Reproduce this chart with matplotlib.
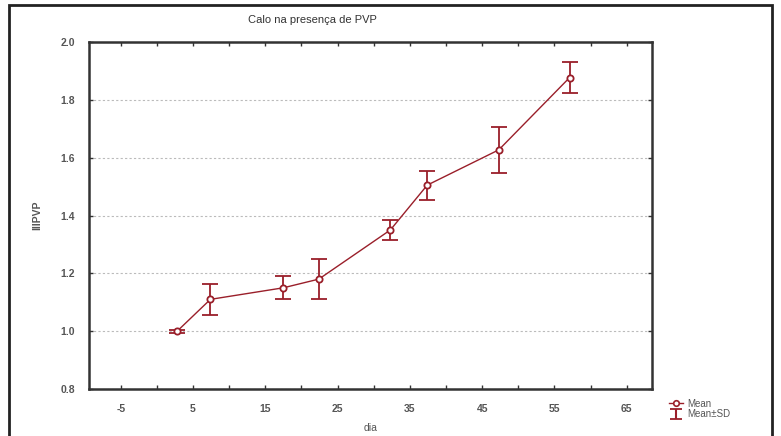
import matplotlib
matplotlib.use("Agg")
import matplotlib.pyplot as plt
from matplotlib.patches import Rectangle
from matplotlib.lines import Line2D
from matplotlib.container import ErrorbarContainer
from matplotlib.collections import LineCollection

plt.rcParams['font.family'] = ['Liberation Sans', 'DejaVu Sans']

dia = [2.8, 7.4, 17.5, 22.4, 32.3, 37.4, 47.3, 57.1]
mean = [1.00, 1.11, 1.15, 1.18, 1.35, 1.505, 1.627, 1.877]
sd = [0.005, 0.053, 0.04, 0.068, 0.036, 0.05, 0.08, 0.053]
xticks = [-5, 5, 15, 25, 35, 45, 55, 65]
yticks = [0.8, 1.0, 1.2, 1.4, 1.6, 1.8, 2.0]

W, H = 781, 436
fig = plt.figure(figsize=(W/100, H/100), dpi=100)
ax = fig.add_axes([89/W, 1-389/H, (652-89)/W, (389-42)/H])

red = '#9a1f2a'
ax.errorbar(dia, mean, yerr=sd, color=red, lw=1.0, marker='o', ms=4.5,
            mfc='white', mec=red, mew=1.3, capsize=6, capthick=1.3, elinewidth=1.3,
            zorder=3)

ax.set_xlim(-9.4, 68.5)
ax.set_ylim(0.8, 2.0)
ax.set_xticks(list(range(-5, 70, 5)))
ax.set_xticklabels([str(v) if v in xticks else '' for v in range(-5, 70, 5)])
ax.set_yticks(yticks)
ax.set_yticklabels([f'{v:.1f}' for v in yticks])
ax.tick_params(axis='both', direction='in', length=3, width=1, labelsize=7.5,
               colors='#333333', labelcolor='#555555', top=True, right=True, pad=10)
ax.tick_params(axis='x', pad=11)
for lab in ax.get_xticklabels() + ax.get_yticklabels():
    lab.set_fontweight('bold')
for s in ax.spines.values():
    s.set_linewidth(1.8)
    s.set_color('#333333')
ax.yaxis.grid(True, linestyle=(0, (2, 2)), color='#bbbbbb', lw=0.8)
ax.set_axisbelow(True)

ax.set_xlabel('dia', fontsize=7.5, color='#555555', labelpad=6)
ax.set_ylabel('IIIPVP', fontsize=7.5, color='#555555', labelpad=13, fontweight='bold')
fig.text(312/W, 1-20/H, 'Calo na presença de PVP', fontsize=8, color='#333333',
         ha='center', va='center')

h1 = Line2D([], [], color=red, lw=1.0, marker='o', ms=4, mfc='white', mec=red, mew=1.2)
cap = Line2D([], [], color=red, marker='_', ms=8, mew=1.3)
h2 = ErrorbarContainer((Line2D([], [], lw=0, color=red), (cap, cap),
                        (LineCollection([], colors=red, linewidths=1.5),)),
                       has_xerr=False, has_yerr=True)
fig.legend([h1, h2], ['Mean', 'Mean±SD'], loc='upper left',
           bbox_to_anchor=(664/W, 1-394/H), frameon=False, fontsize=7,
           handlelength=1.5, handletextpad=0.4, labelspacing=0.05, borderpad=0,
           labelcolor='#555555')

fig.patches.append(Rectangle((9/W, -0.01), (772-9)/W, 1-5/H + 0.01,
                             transform=fig.transFigure, fill=False,
                             ec='#222222', lw=2.0))

fig.savefig('out.png', dpi=100, facecolor='white')
